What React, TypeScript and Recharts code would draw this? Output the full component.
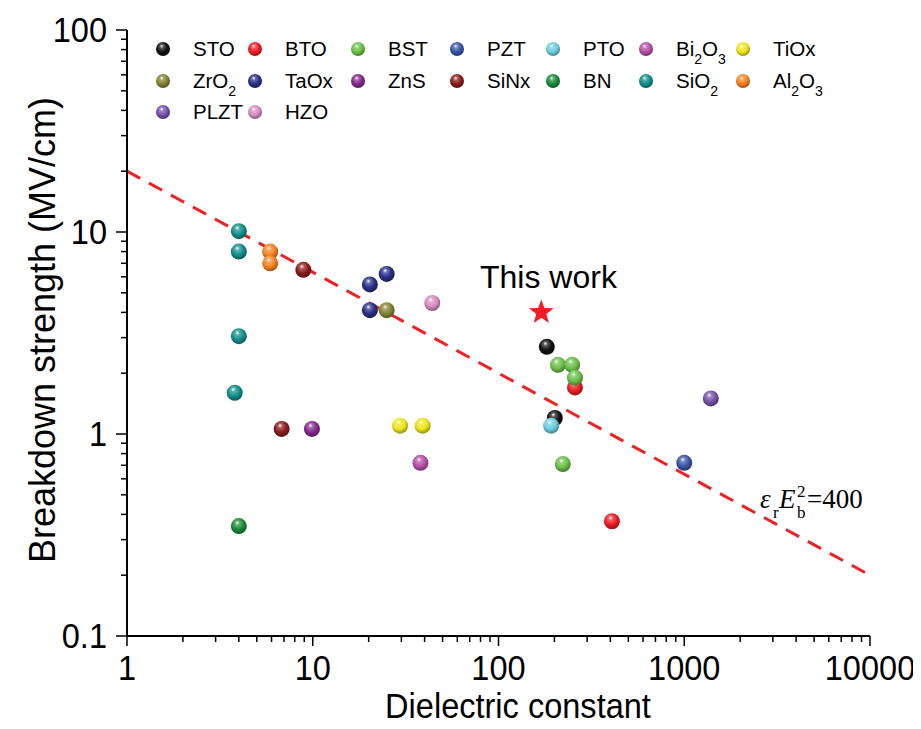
import { ScatterChart, Scatter, XAxis, YAxis, ReferenceLine } from 'recharts'

// dielectric constant (x) vs breakdown strength in MV/cm (y)
const STO = [{ x: 182, y: 2.7 }, { x: 201, y: 1.2 }]
const BTO = [{ x: 258, y: 1.7 }, { x: 408, y: 0.37 }]
const BST = [{ x: 209, y: 2.2 }, { x: 249, y: 2.2 }, { x: 258, y: 1.9 }, { x: 222, y: 0.71 }]
const PZT = [{ x: 1000, y: 0.72 }]
const PTO = [{ x: 192, y: 1.1 }]
const BI2O3 = [{ x: 38, y: 0.72 }]
const TIOX = [{ x: 29.5, y: 1.1 }, { x: 39, y: 1.1 }]
const ZRO2 = [{ x: 25, y: 4.1 }]
const TAOX = [{ x: 20.3, y: 5.5 }, { x: 25, y: 6.2 }, { x: 20.3, y: 4.1 }]
const ZNS = [{ x: 9.9, y: 1.06 }]
const SINX = [{ x: 6.8, y: 1.06 }, { x: 8.9, y: 6.5 }]
const BN = [{ x: 4, y: 0.35 }]
const SIO2 = [{ x: 4, y: 10.1 }, { x: 4, y: 8 }, { x: 4, y: 3.05 }, { x: 3.8, y: 1.6 }]
const AL2O3 = [{ x: 5.9, y: 8 }, { x: 5.9, y: 7 }]
const PLZT = [{ x: 1390, y: 1.5 }]
const HZO = [{ x: 44, y: 4.45 }]
const THIS_WORK = [{ x: 170, y: 4 }]

// eps_r * Eb^2 = 400 guide, end points at the axis limits
const LIMIT_LINE = [{ x: 1, y: 20 }, { x: 10000, y: 0.2 }]

const X_MAJOR = [1, 10, 100, 1000, 10000]
const Y_MAJOR = [0.1, 1, 10, 100]
const MINOR_STEPS = [2, 3, 4, 5, 6, 7, 8, 9]

// "_2" marks a subscript digit
const SERIES = [
  { key: 'sto', label: 'STO', color: '#111111', data: STO },
  { key: 'bto', label: 'BTO', color: '#ee1c25', data: BTO },
  { key: 'bst', label: 'BST', color: '#6cc04a', data: BST },
  { key: 'pzt', label: 'PZT', color: '#3a55a8', data: PZT },
  { key: 'pto', label: 'PTO', color: '#6ccde0', data: PTO },
  { key: 'bi2o3', label: 'Bi_2O_3', color: '#b84fa8', data: BI2O3 },
  { key: 'tiox', label: 'TiOx', color: '#ede61c', data: TIOX },
  { key: 'zro2', label: 'ZrO_2', color: '#838336', data: ZRO2 },
  { key: 'taox', label: 'TaOx', color: '#2a2f85', data: TAOX },
  { key: 'zns', label: 'ZnS', color: '#85288e', data: ZNS },
  { key: 'sinx', label: 'SiNx', color: '#8b1a1c', data: SINX },
  { key: 'bn', label: 'BN', color: '#1a8a3a', data: BN },
  { key: 'sio2', label: 'SiO_2', color: '#138e8b', data: SIO2 },
  { key: 'al2o3', label: 'Al_2O_3', color: '#f7821f', data: AL2O3 },
  { key: 'plzt', label: 'PLZT', color: '#7552a8', data: PLZT },
  { key: 'hzo', label: 'HZO', color: '#d98bc0', data: HZO },
]

const W = 913
const H = 721
const FONT = '"Liberation Sans", Arial, sans-serif'
const SERIF = '"Liberation Serif", "Times New Roman", serif'
const LEGEND_COLS = [155, 247, 350, 449, 545, 638, 735]
const LEGEND_ROWS = [41, 73, 104]

function withMinors(majors: number[]) {
  const out: number[] = []
  majors.forEach((m, i) => {
    out.push(m)
    if (i < majors.length - 1) MINOR_STEPS.forEach(k => out.push(Number((m * k).toPrecision(6))))
  })
  return out
}

function mix(hex: string, target: number, t: number) {
  const n = parseInt(hex.slice(1), 16)
  const ch = [(n >> 16) & 255, (n >> 8) & 255, n & 255].map(c => Math.round(c + (target - c) * t))
  return `rgb(${ch[0]},${ch[1]},${ch[2]})`
}

function Ball({ cx, cy, id, r = 8 }: { cx: number; cy: number; id: string; r?: number }) {
  return <circle cx={cx} cy={cy} r={r} fill={`url(#ball-${id})`} />
}

function Star({ cx, cy }: { cx: number; cy: number }) {
  const pts: string[] = []
  for (let i = 0; i < 10; i++) {
    const rad = i % 2 === 0 ? 13 : 5.3
    const a = -Math.PI / 2 + (i * Math.PI) / 5
    pts.push(`${cx + rad * Math.cos(a)},${cy + rad * Math.sin(a)}`)
  }
  return <polygon points={pts.join(' ')} fill="#ee1c25" />
}

function XTick({ x, y, payload }: any) {
  const major = X_MAJOR.includes(payload.value)
  return (
    <g>
      <line x1={x} y1={y} x2={x} y2={y + (major ? 10 : 6)} stroke="#000" strokeWidth={1.5} />
      {major && (
        <text transform={`translate(${x},${y + 44}) scale(0.93,1)`} textAnchor="middle" fontSize={35} fontFamily={FONT} fill="#000">
          {payload.value}
        </text>
      )}
    </g>
  )
}

function YTick({ x, y, payload }: any) {
  const major = Y_MAJOR.includes(payload.value)
  return (
    <g>
      <line x1={x} y1={y} x2={x - (major ? 11 : 6)} y2={y} stroke="#000" strokeWidth={1.5} />
      {major && (
        <text transform={`translate(${x - 20},${y + 12}) scale(0.93,1)`} textAnchor="end" fontSize={35} fontFamily={FONT} fill="#000">
          {payload.value < 1 ? '0.1' : String(payload.value)}
        </text>
      )}
    </g>
  )
}

function LegendLabel({ x, y, label }: { x: number; y: number; label: string }) {
  const parts = label.split(/_(\d)/)
  return (
    <text x={x} y={y + 7} fontSize={20.5} fontFamily={FONT} fill="#000">
      {parts.map((p, i) =>
        i % 2 === 1 ? (
          <tspan key={i} dy={8} fontSize={14}>{p}</tspan>
        ) : (
          <tspan key={i} dy={i > 0 ? -8 : 0}>{p}</tspan>
        )
      )}
    </text>
  )
}

function Overlay() {
  return (
    <svg width={W} height={H} style={{ position: 'absolute', left: 0, top: 0, pointerEvents: 'none' }}>
      <defs>
        {SERIES.map(s => (
          <radialGradient key={s.key} id={`ball-${s.key}`} cx="45%" cy="40%" r="62%" fx="40%" fy="28%">
            <stop offset="0%" stopColor="#ffffff" />
            <stop offset="22%" stopColor={mix(s.color, 255, 0.3)} />
            <stop offset="60%" stopColor={s.color} />
            <stop offset="100%" stopColor={mix(s.color, 0, 0.4)} />
          </radialGradient>
        ))}
      </defs>
      {SERIES.map((s, i) => {
        const cx = LEGEND_COLS[i % 7]
        const cy = LEGEND_ROWS[Math.floor(i / 7)]
        return (
          <g key={s.key}>
            <Ball cx={cx} cy={cy} id={s.key} r={7} />
            <LegendLabel x={cx + 30} y={cy} label={s.label} />
          </g>
        )
      })}
      <text x={472} y={280} fontSize={32} fontFamily={FONT} fill="#000">This work</text>
      <g fontFamily={SERIF} fill="#000">
        <text x={752} y={500} fontSize={27} fontStyle="italic">ε</text>
        <text x={765} y={510} fontSize={17}>r</text>
        <text x={771} y={500} fontSize={27} fontStyle="italic">E</text>
        <text x={789} y={489} fontSize={17}>2</text>
        <text x={789} y={510} fontSize={17}>b</text>
        <text x={799} y={500} fontSize={27}>=400</text>
      </g>
      <text transform="translate(47,322) rotate(-90)" textAnchor="middle" fontSize={36} fontFamily={FONT} fill="#000">
        Breakdown strength (MV/cm)
      </text>
      <text transform="translate(510,710) scale(0.93,1)" textAnchor="middle" fontSize={35} fontFamily={FONT} fill="#000">
        Dielectric constant
      </text>
    </svg>
  )
}

export default function App() {
  return (
    <div style={{ position: 'relative', width: W, height: H }}>
      <ScatterChart width={W} height={H} margin={{ top: 22, right: 51, bottom: 0, left: 0 }}>
        <XAxis
          dataKey="x"
          type="number"
          scale="log"
          domain={[1, 10000]}
          ticks={withMinors(X_MAJOR)}
          interval={0}
          height={93}
          tickSize={0}
          tickMargin={0}
          tick={(p: any) => <XTick {...p} />}
          axisLine={{ stroke: '#000', strokeWidth: 2 }}
          tickLine={false}
        />
        <XAxis xAxisId="top" orientation="top" type="number" scale="log" domain={[1, 10000]} height={0} tick={false} tickLine={false} axisLine={{ stroke: '#000', strokeWidth: 2 }} />
        <YAxis
          dataKey="y"
          type="number"
          scale="log"
          domain={[0.1, 100]}
          ticks={withMinors(Y_MAJOR)}
          interval={0}
          width={119}
          tickSize={0}
          tickMargin={0}
          tick={(p: any) => <YTick {...p} />}
          axisLine={{ stroke: '#000', strokeWidth: 2 }}
          tickLine={false}
        />
        <YAxis yAxisId="right" orientation="right" type="number" scale="log" domain={[0.1, 100]} width={0} tick={false} tickLine={false} axisLine={{ stroke: '#000', strokeWidth: 2 }} />
        {SERIES.map(s => (
          <Scatter
            key={s.key}
            name={s.label}
            data={s.data}
            isAnimationActive={false}
            shape={(p: any) => <Ball cx={p.cx} cy={p.cy} id={s.key} />}
          />
        ))}
        <Scatter name="This work" data={THIS_WORK} isAnimationActive={false} shape={(p: any) => <Star cx={p.cx} cy={p.cy} />} />
        <ReferenceLine segment={LIMIT_LINE} stroke="#ee2224" strokeWidth={3} strokeDasharray="15 10" ifOverflow="visible" />
      </ScatterChart>
      <Overlay />
    </div>
  )
}
